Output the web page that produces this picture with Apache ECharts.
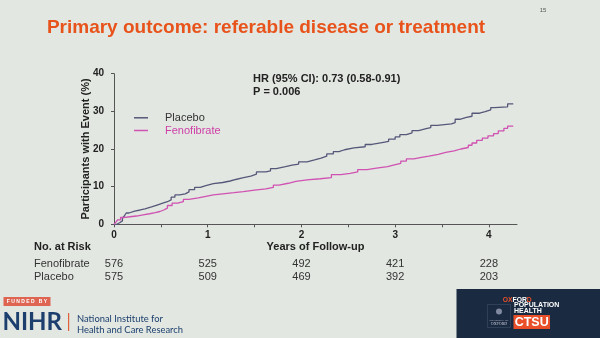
<!DOCTYPE html>
<html>
<head>
<meta charset="utf-8">
<script src="https://cdn.jsdelivr.net/npm/echarts@6/dist/echarts.min.js"></script>
<style>
html,body{margin:0;padding:0;background:#e2e7e1;}
#c{width:600px;height:338px;}
</style>
</head>
<body>
<div id="c"></div>
<script>
// ---- data (years, % with event) ----
const placeboT = [0,0.03,0.06,0.09,0.11,0.13,0.16,0.22,0.28,0.33,0.40,0.46,0.52,0.57,0.61,0.65,0.70,0.76,0.80,0.86,0.92,0.98,1.06,1.16,1.24,1.30,1.37,1.46,1.52,1.62,1.67,1.73,1.83,1.90,1.97,2.06,2.14,2.21,2.27,2.34,2.40,2.46,2.56,2.68,2.75,2.86,2.93,3.00,3.05,3.12,3.18,3.25,3.33,3.38,3.45,3.60,3.64,3.69,3.76,3.82,3.90,3.96,4.02,4.06,4.20,4.26];
const placeboV = [0,0.4,0.9,1.6,2.2,3.0,3.5,3.8,4.1,4.6,5.1,5.6,6.0,6.5,7.2,7.8,8.1,8.6,9.2,9.8,10.3,10.8,11.1,11.5,11.9,12.3,12.8,13.3,13.9,14.2,14.8,15.3,15.7,16.0,16.6,17.1,17.6,18.1,18.7,19.3,19.8,20.3,20.6,21.2,21.7,22.0,22.6,23.2,23.8,24.3,24.9,25.4,25.7,26.3,26.7,27.0,27.9,28.4,28.7,29.5,29.9,30.4,31.0,31.2,32.0,32.0];
const fenoT = [0,0.02,0.04,0.07,0.10,0.17,0.24,0.31,0.38,0.44,0.49,0.53,0.57,0.62,0.68,0.74,0.80,0.90,0.98,1.06,1.16,1.28,1.38,1.50,1.62,1.70,1.76,1.86,1.94,2.06,2.20,2.32,2.42,2.52,2.60,2.70,2.80,2.92,2.98,3.06,3.12,3.20,3.28,3.36,3.46,3.54,3.63,3.70,3.78,3.82,3.87,3.93,3.99,4.05,4.10,4.16,4.20,4.26];
const fenoV = [0,0.6,1.2,1.8,2.0,2.2,2.5,2.8,3.1,3.4,3.8,4.3,5.0,5.6,6.0,6.6,7.0,7.4,7.8,8.1,8.4,8.7,9.1,9.4,9.8,10.4,10.9,11.4,11.8,12.1,12.4,13.2,13.5,13.9,14.5,14.9,15.3,15.7,16.2,16.8,17.4,17.8,18.1,18.6,19.1,19.5,20.0,20.4,21.0,21.6,22.3,22.9,23.5,24.1,24.8,25.5,26.1,26.1];
const riskYears = [0,1,2,3,4];
const riskFeno = [576,525,492,421,228];
const riskPlacebo = [575,509,469,392,203];
const yTicks = [0,10,20,30,40];
const xMinorTicks = [0,0.5,1,1.5,2,2.5,3,3.5,4];

const zip = (t, v) => t.map((x, i) => [x, v[i]]);
const FONT = 'Liberation Sans, Arial, sans-serif';
const axisColor = '#555';

const chart = echarts.init(document.getElementById('c'), null, {renderer: 'canvas'});

const riskAxis = (vals, offset) => ({
  type: 'value', min: 0, max: 4.3, position: 'bottom', offset: offset,
  axisLine: {show: false}, axisTick: {show: false}, splitLine: {show: false},
  axisLabel: {
    customValues: riskYears, margin: 0, fontSize: 11, color: '#333', fontFamily: FONT,
    formatter: v => { const i = riskYears.indexOf(Math.round(v)); return i >= 0 ? String(vals[i]) : ''; }
  }
});

chart.setOption({
  backgroundColor: '#e2e7e1',
  animation: false,
  textStyle: {fontFamily: FONT},
  grid: {left: 114, right: 83, top: 73.7, bottom: 113.7, containLabel: false},
  xAxis: [
    {
      type: 'value', min: 0, max: 4.3,
      name: 'Years of Follow-up', nameLocation: 'middle', nameGap: 17, nameMoveOverlap: false,
      nameTextStyle: {fontSize: 11, fontWeight: 'bold', color: '#222', fontFamily: FONT},
      axisLine: {show: true, lineStyle: {color: axisColor, width: 1}},
      axisTick: {show: true, customValues: xMinorTicks, length: 3, lineStyle: {color: axisColor}},
      axisLabel: {customValues: riskYears, margin: 6, fontSize: 10, fontWeight: 'bold', color: '#222', fontFamily: FONT},
      splitLine: {show: false}
    },
    riskAxis(riskFeno, 34.5),
    riskAxis(riskPlacebo, 47)
  ],
  yAxis: {
    type: 'value', min: 0, max: 40, interval: 10,
    name: 'Participants with Event (%)', nameLocation: 'middle', nameGap: 23, nameMoveOverlap: false,
    nameTextStyle: {fontSize: 11, fontWeight: 'bold', color: '#222', fontFamily: FONT},
    axisLine: {show: true, lineStyle: {color: axisColor, width: 1}},
    axisTick: {show: true, length: 3, lineStyle: {color: axisColor}},
    axisLabel: {margin: 10, fontSize: 10, fontWeight: 'bold', color: '#222', fontFamily: FONT},
    splitLine: {show: false}
  },
  legend: {
    orient: 'vertical', left: 134, top: 112.3, padding: 0, itemWidth: 14, itemHeight: 1.5, itemGap: 1.7,
    icon: 'rect',
    textStyle: {fontSize: 11, fontFamily: FONT, padding: [0, 0, 0, 12]},
    data: [
      {name: 'Placebo', textStyle: {color: '#333'}},
      {name: 'Fenofibrate', textStyle: {color: '#cf3fa8'}}
    ]
  },
  series: [
    {name: 'Placebo', type: 'line', step: 'end', showSymbol: false, data: zip(placeboT, placeboV),
     lineStyle: {color: '#56587a', width: 1.3}, itemStyle: {color: '#56587a'}},
    {name: 'Fenofibrate', type: 'line', step: 'end', showSymbol: false, data: zip(fenoT, fenoV),
     lineStyle: {color: '#d052b2', width: 1.3}, itemStyle: {color: '#d052b2'}}
  ],
  graphic: [
    {type: 'text', x: 266, y: 28, style: {text: 'Primary outcome: referable disease or treatment', fill: '#e8531c',
      font: 'bold 19px ' + FONT, textAlign: 'center', textVerticalAlign: 'middle'}},
    {type: 'text', x: 543, y: 10, style: {text: '15', fill: '#555', font: '6px ' + FONT, textAlign: 'center', textVerticalAlign: 'middle'}},
    {type: 'text', x: 253, y: 78.5, style: {text: 'HR (95% CI): 0.73 (0.58-0.91)', fill: '#222', font: 'bold 11px ' + FONT, textVerticalAlign: 'middle'}},
    {type: 'text', x: 253, y: 91.7, style: {text: 'P = 0.006', fill: '#222', font: 'bold 11px ' + FONT, textVerticalAlign: 'middle'}},
    {type: 'text', x: 34, y: 246.7, style: {text: 'No. at Risk', fill: '#222', font: 'bold 11px ' + FONT, textVerticalAlign: 'middle'}},
    {type: 'text', x: 34, y: 264.3, style: {text: 'Fenofibrate', fill: '#333', font: '11px ' + FONT, textVerticalAlign: 'middle'}},
    {type: 'text', x: 34, y: 276.7, style: {text: 'Placebo', fill: '#333', font: '11px ' + FONT, textVerticalAlign: 'middle'}},
    // NIHR footer
    {type: 'rect', shape: {x: 3.5, y: 297, width: 47, height: 9}, style: {fill: '#dd6552'}},
    {type: 'text', x: 27, y: 301.6, style: {text: 'F U N D E D   B Y', fill: '#fff', font: 'bold 5px ' + FONT, textAlign: 'center', textVerticalAlign: 'middle'}},
    {type: 'text', x: 2.5, y: 322.5, style: {text: 'NIHR', fill: '#1c3f6e', font: 'bold 24px Lato, ' + FONT, textVerticalAlign: 'middle'}},
    {type: 'rect', shape: {x: 68, y: 313, width: 1.2, height: 18}, style: {fill: '#e0603a'}},
    {type: 'text', x: 77, y: 318.5, style: {text: 'National Institute for', fill: '#1c3f6e', font: '9.4px Lato, ' + FONT, textVerticalAlign: 'middle'}},
    {type: 'text', x: 77, y: 329.5, style: {text: 'Health and Care Research', fill: '#1c3f6e', font: '9.4px Lato, ' + FONT, textVerticalAlign: 'middle'}},
    // Oxford box
    {type: 'rect', shape: {x: 456.5, y: 289, width: 144, height: 50}, style: {fill: '#1a2a40'}},
    {type: 'rect', shape: {x: 487.5, y: 304.5, width: 23, height: 23}, style: {fill: 'none', stroke: '#3a4a62', lineWidth: 0.7}},
    {type: 'circle', shape: {cx: 499, cy: 311.5, r: 3}, style: {fill: '#7f8aa0'}},
    {type: 'text', x: 499, y: 320, style: {text: 'UNIVERSITY OF', fill: '#aab', font: '2.5px ' + FONT, textAlign: 'center', textVerticalAlign: 'middle'}},
    {type: 'text', x: 499, y: 323.5, style: {text: 'OXFORD', fill: '#ccd', font: '4px serif', textAlign: 'center', textVerticalAlign: 'middle'}},
    {type: 'text', x: 502.7, y: 300, style: {
      text: '{o|OX}{w|FOR}{o|D}', font: 'bold 6.8px ' + FONT, textVerticalAlign: 'middle',
      rich: {o: {fill: '#e9502a', font: 'bold 6.8px ' + FONT}, w: {fill: '#fff', font: 'bold 6.8px ' + FONT}}}},
    {type: 'text', x: 514, y: 305.5, style: {text: 'POPULATION', fill: '#fff', font: 'bold 7px ' + FONT, textVerticalAlign: 'middle'}},
    {type: 'text', x: 514, y: 311, style: {text: 'HEALTH', fill: '#fff', font: 'bold 7px ' + FONT, textVerticalAlign: 'middle'}},
    {type: 'rect', shape: {x: 513.5, y: 315, width: 36.5, height: 14}, style: {fill: '#e9502a'}},
    {type: 'text', x: 531.7, y: 322.2, style: {text: 'CTSU', fill: '#fff', font: 'bold 12.5px ' + FONT, textAlign: 'center', textVerticalAlign: 'middle'}}
  ]
});
</script>
</body>
</html>
